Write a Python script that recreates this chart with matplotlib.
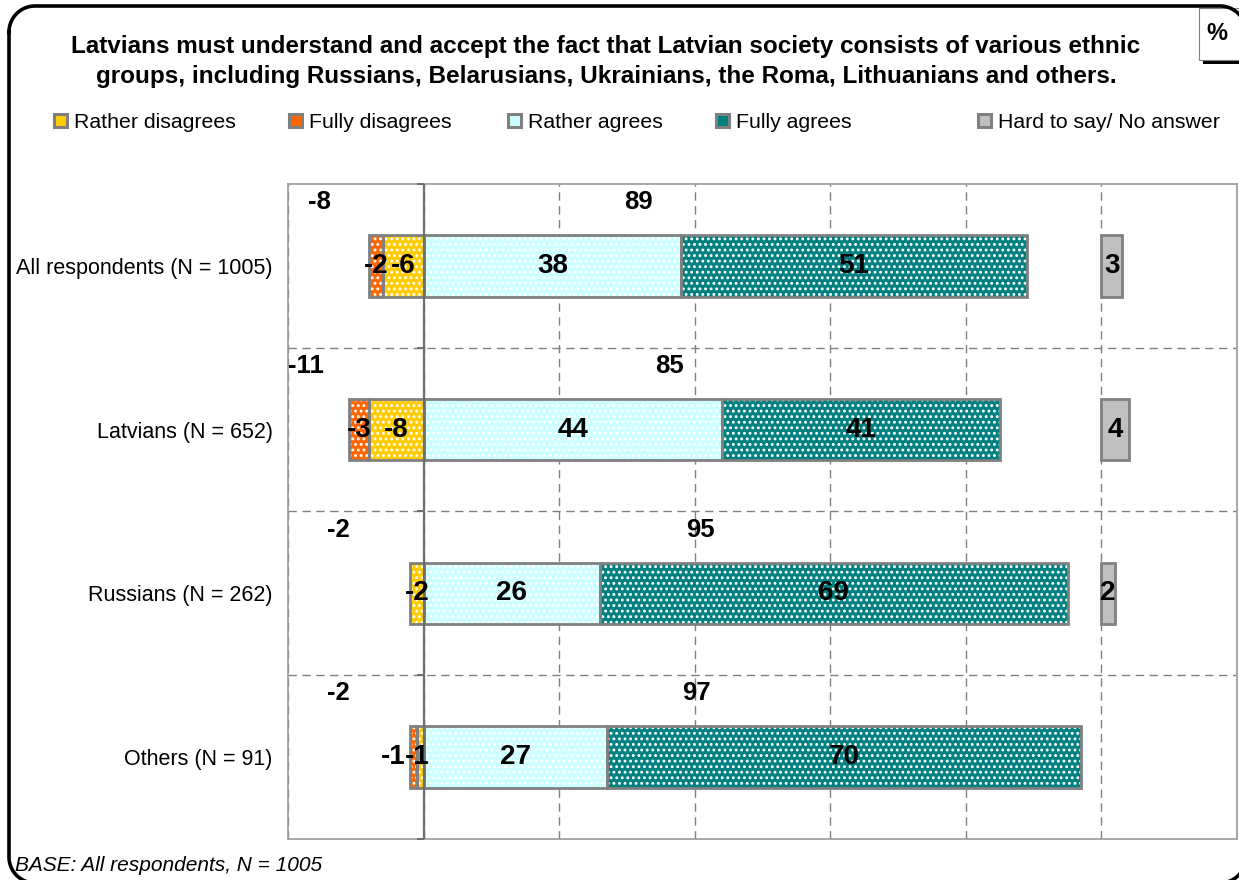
#!/usr/bin/env python3

import numpy as np
import matplotlib
matplotlib.use("Agg")
import matplotlib.pyplot as plt
from matplotlib.lines import Line2D
from matplotlib.patches import Rectangle

plt.rcParams["font.family"] = ["Liberation Sans", "DejaVu Sans"]
plt.rcParams["hatch.linewidth"] = 1.3

categories = [
    "All respondents (N = 1005)",
    "Latvians (N = 652)",
    "Russians (N = 262)",
    "Others (N = 91)",
]
fully_disagree = [-2, -3, 0, -1]
rather_disagree = [-6, -8, -2, -1]
rather_agree = [38, 44, 26, 27]
fully_agree = [51, 41, 69, 70]
hard_to_say = [3, 4, 2, 0]
net_disagree = [-8, -11, -2, -2]
net_agree = [89, 85, 95, 97]

legend_names = ["Rather disagrees", "Fully disagrees", "Rather agrees",
                "Fully agrees", "Hard to say/ No answer"]

title_lines = [
    "Latvians must understand and accept the fact that Latvian society consists of various ethnic",
    "groups, including Russians, Belarusians, Ukrainians, the Roma, Lithuanians and others.",
]

C_RD = "#FFCC00"
C_FD = "#FF6600"
C_RA = "#CCFFFF"
C_FA = "#008080"
C_HS = "#C0C0C0"
EDGE = "#808080"

W, H = 1239, 880
fig = plt.figure(figsize=(W / 100, H / 100), dpi=100)


def rounded_outline(x0, y0, x1, y1, r, n=24):
    # corner arcs as polylines, pixel coords measured from the top-left
    pts = []
    corners = [(x0 + r, y0 + r, 180, 270), (x1 - r, y0 + r, 270, 360),
               (x1 - r, y1 - r, 0, 90), (x0 + r, y1 - r, 90, 180)]
    for cx, cy, a0, a1 in corners:
        t = np.radians(np.linspace(a0, a1, n))
        pts += list(zip(cx + r * np.cos(t), cy + r * np.sin(t)))
    pts.append(pts[0])
    xs = [p[0] / W for p in pts]
    ys = [1 - p[1] / H for p in pts]
    return xs, ys


fx, fy = rounded_outline(9, 6, 1246, 883, 26)
fig.add_artist(Line2D(fx, fy, transform=fig.transFigure, color="black",
                      linewidth=2.6, solid_joinstyle="round"))

ax = fig.add_axes([288 / W, 1 - 839 / H, (1237 - 288) / W, (839 - 184) / H])

ypos = list(range(len(categories)))
bh = 0.375


def hbar(left, width, color, hatch=None):
    rows = [i for i in ypos if width[i]]
    lefts = [left[i] if isinstance(left, list) else left for i in rows]
    widths = [width[i] for i in rows]
    if hatch:
        # patterned fill first, then the grey outline on top
        ax.barh(rows, widths, left=lefts, height=bh, color=color,
                edgecolor="white", hatch=hatch, linewidth=0, zorder=3)
        ax.barh(rows, widths, left=lefts, height=bh, fill=False,
                edgecolor=EDGE, linewidth=2.0, zorder=4)
    else:
        ax.barh(rows, widths, left=lefts, height=bh, color=color,
                edgecolor=EDGE, linewidth=2.0, zorder=4)


hard_left = 100
hbar(0, rather_disagree, C_RD, "...")
hbar(rather_disagree, fully_disagree, C_FD, "...")
hbar(0, rather_agree, C_RA, "...")
hbar(rather_agree, fully_agree, C_FA, "...")
hbar(hard_left, hard_to_say, C_HS)

# value labels inside the segments
lab_kw = dict(ha="center", va="center", fontsize=20, fontweight="bold", zorder=6)
nudge = {(3, "fd"): -3.0, (3, "rd"): -0.4}
for i in ypos:
    rd, fd = rather_disagree[i], fully_disagree[i]
    ra, fa = rather_agree[i], fully_agree[i]
    if rd:
        ax.text(rd / 2 + nudge.get((i, "rd"), 0), i, f"{rd}", **lab_kw)
    if fd:
        ax.text(rd + fd / 2 + nudge.get((i, "fd"), 0), i, f"{fd}", **lab_kw)
    ax.text(ra / 2, i, f"{ra}", **lab_kw)
    ax.text(ra + fa / 2, i, f"{fa}", **lab_kw)
    if hard_to_say[i]:
        ax.text(hard_left + hard_to_say[i] / 2, i, f"{hard_to_say[i]}", **lab_kw)

# net totals above each bar
net_dis_x = [-15.4, -17.3, -12.6, -12.6]
net_agr_x = [31.7, 36.3, 40.8, 40.2]
for i in ypos:
    ax.text(net_dis_x[i], i - 0.39, f"{net_disagree[i]}", ha="center",
            va="center", fontsize=18.5, fontweight="bold", zorder=6)
    ax.text(net_agr_x[i], i - 0.39, f"{net_agree[i]}", ha="center",
            va="center", fontsize=18.5, fontweight="bold", zorder=6)

ax.set_xlim(-20, 120)
ax.set_ylim(3.5, -0.5)

ax.set_xticks(range(-20, 121, 20))
ax.tick_params(axis="x", length=0, labelbottom=False)
ax.set_yticks(ypos)
ax.set_yticklabels(categories, fontsize=15.5)
ax.tick_params(axis="y", length=0, pad=11)
ax.set_yticks([0.5, 1.5, 2.5], minor=True)
ax.tick_params(axis="y", which="minor", length=0)

grid_kw = dict(color=EDGE, linewidth=1.0, linestyle=(0, (6, 4)))
ax.grid(axis="x", which="major", **grid_kw, zorder=1)
ax.grid(axis="y", which="minor", **grid_kw, zorder=1)
ax.grid(axis="y", which="major", visible=False)
ax.set_axisbelow(True)

ax.axvline(0, color="#6E6E6E", linewidth=1.6, zorder=5)
ax.hlines([-0.5, 0.5, 1.5, 2.5, 3.5], -1.0, 0, color="#6E6E6E",
          linewidth=1.4, zorder=5, clip_on=False)

for sp in ax.spines.values():
    sp.set_color("#9A9A9A")
    sp.set_linewidth(1.2)

# title
for k, line in enumerate(title_lines):
    fig.text(606 / W, 1 - (53 + 30 * k) / H, line, ha="center", va="baseline",
             fontsize=17.5, fontweight="bold")

# legend row
leg_colors = [C_RD, C_FD, C_RA, C_FA, C_HS]
leg_x = [54, 289, 508, 716, 978]
for name, col, lx in zip(legend_names, leg_colors, leg_x):
    fig.add_artist(Rectangle((lx / W, 1 - 127 / H), 13 / W, 13 / H,
                             transform=fig.transFigure, facecolor=col,
                             edgecolor=EDGE, linewidth=2.2))
    fig.text((lx + 20) / W, 1 - 128 / H, name, ha="left", va="baseline",
             fontsize=15.3)

# footnote
fig.text(15 / W, 1 - 871 / H, "BASE: All respondents, N = 1005", ha="left",
         va="baseline", fontsize=15, fontstyle="italic")

# percent tag with shadow
fig.add_artist(Rectangle((12.03, 8.16), 0.5, 0.52, transform=fig.dpi_scale_trans,
                         facecolor="black", edgecolor="none"))
fig.add_artist(Rectangle((11.99, 8.20), 0.5, 0.52, transform=fig.dpi_scale_trans,
                         facecolor="white", edgecolor="#808080", linewidth=0.8))
fig.text(1217 / W, 1 - 40 / H, "%", ha="center", va="baseline", fontsize=17,
         fontweight="bold")

fig.savefig("out.png", dpi=100)
